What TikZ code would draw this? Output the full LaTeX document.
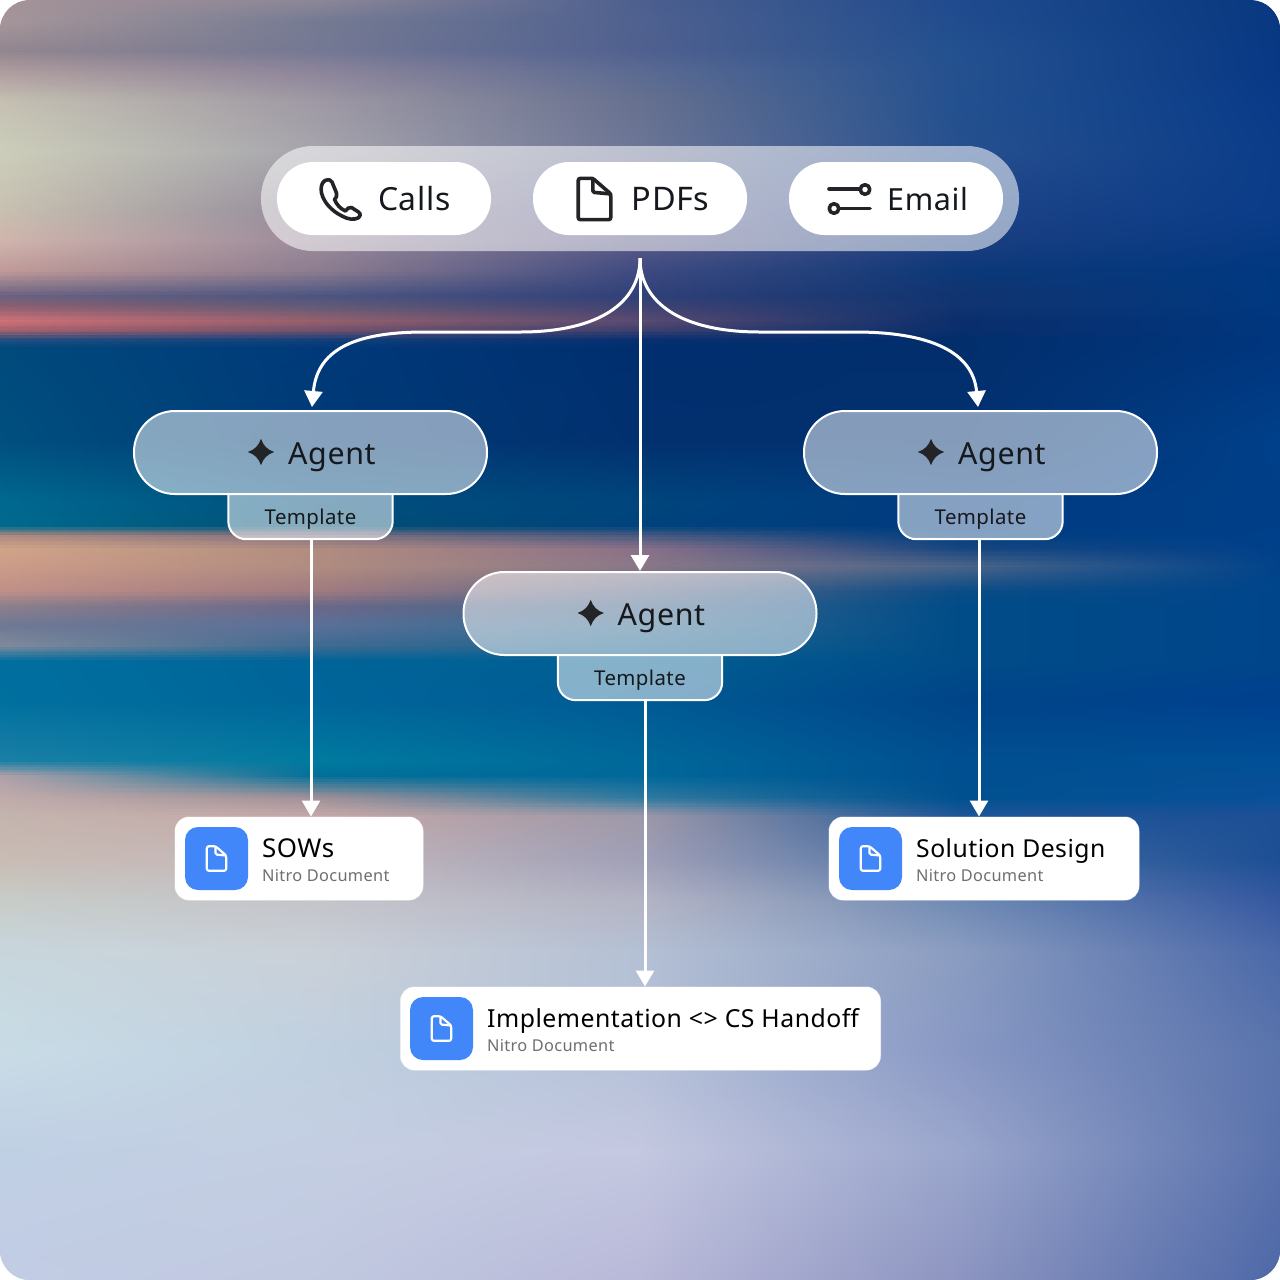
\documentclass[tikz,border=0pt]{standalone}
\usepackage{fontspec}
\setmainfont[LetterSpace=2]{Noto Sans}
\usetikzlibrary{arrows.meta}
\newcommand{\keyrow}[7]{%
  \expandafter\def\csname kywpos#1\endcsname{#2}%
  \definecolor{k#1a}{HTML}{#3}\definecolor{k#1b}{HTML}{#4}\definecolor{k#1c}{HTML}{#5}\definecolor{k#1d}{HTML}{#6}\definecolor{k#1e}{HTML}{#7}}
\keyrow{0}{0}{A49298}{8C8698}{4C5F8E}{1F4A8E}{083880}
\keyrow{1}{20}{A6969A}{747A92}{4F618F}{204C8E}{083880}
\keyrow{2}{50}{92868F}{747894}{50608F}{22508F}{083884}
\keyrow{3}{70}{AE9C9E}{8C849A}{5A6A92}{24508F}{083884}
\keyrow{4}{100}{C5C0B2}{9E98A4}{66708F}{22508F}{083A88}
\keyrow{5}{150}{CCCEBA}{A6A4AC}{6C7596}{264F8E}{0A3C88}
\keyrow{6}{210}{C8C0B0}{928A9C}{5F6490}{1D4386}{0A3C88}
\keyrow{7}{240}{D0B4AC}{9A8A9A}{5A5A88}{1A3E80}{063A84}
\keyrow{8}{270}{C09A98}{8C7C90}{3E4A80}{0C3878}{003880}
\keyrow{9}{295}{6A6280}{4C5580}{2F4078}{103470}{003880}
\keyrow{10}{305}{8A5F70}{605A78}{3F4272}{103470}{003880}
\keyrow{11}{320}{D07078}{95606C}{5A4A70}{0A2E6C}{00367E}
\keyrow{12}{330}{A0606C}{70506C}{3A3F6E}{0A2E6C}{00367E}
\keyrow{13}{338}{2A4F80}{17407A}{0A3070}{022E6C}{00367E}
\keyrow{14}{347}{004A7C}{00397A}{002E6E}{022E6C}{00367E}
\keyrow{15}{440}{004F7F}{003A75}{02306F}{02306F}{00408A}
\keyrow{16}{500}{00688F}{004F7E}{00457C}{003A80}{003F88}
\keyrow{17}{525}{006A8E}{004F75}{00437C}{003A80}{003F88}
\keyrow{18}{535}{B08A80}{80707F}{4A5A80}{003E80}{00408A}
\keyrow{19}{548}{D0A488}{B08C80}{8A7088}{18467F}{00408A}
\keyrow{20}{565}{CC9C88}{B08C80}{8A7888}{4A6488}{00428A}
\keyrow{21}{590}{C09088}{A07A80}{5A6888}{0A4C86}{00458A}
\keyrow{22}{605}{8C7F8C}{6A6888}{3F6488}{004C88}{00458A}
\keyrow{23}{625}{6F7894}{5A7098}{2F6890}{004C88}{00458A}
\keyrow{24}{645}{7F8A9C}{3F6A90}{1A6490}{004C88}{00458A}
\keyrow{25}{660}{006F9F}{006499}{005E92}{004C88}{00458A}
\keyrow{26}{700}{00709F}{00659A}{005A94}{004488}{00408F}
\keyrow{27}{760}{1A7FA5}{007A9F}{00689A}{004F90}{004F96}
\keyrow{28}{775}{B0A0A8}{006F99}{00689A}{004F90}{064F96}
\keyrow{29}{797}{C0ABAB}{A09098}{2F7AA0}{00508F}{08509A}
\keyrow{30}{815}{C4B4AE}{C4A8A8}{9E98A8}{1C5698}{1D4F95}
\keyrow{31}{860}{C8BCB4}{C4B8BC}{A0A0B8}{4A70A4}{1D4F95}
\keyrow{32}{900}{C8CCC8}{C4C4CA}{B4B4C4}{6F8AB4}{3558A0}
\keyrow{33}{950}{C8D6DC}{CAD0D8}{B4C0D4}{8A9CC0}{4A68A8}
\keyrow{34}{1050}{C8DCE6}{C0D0E0}{B4C0D8}{8898C4}{5A74AC}
\keyrow{35}{1150}{C0D0E4}{C4CEE2}{C4C8E0}{9AA6CC}{5A72AC}
\keyrow{36}{1285}{C2CCE4}{C0C8E0}{B8B8D8}{8C94C0}{4D68A8}
\newcount\stripno
\definecolor{inkcol}{HTML}{15181C}
\definecolor{glyphcol}{HTML}{222427}
\definecolor{blueicon}{HTML}{4287FA}
\definecolor{subgrey}{HTML}{6E6E73}
\tikzset{
  trayshape/.style={draw=none,fill=white,fill opacity=.55,rounded corners=52bp,inner sep=0pt,minimum width=758bp,minimum height=105bp},
  chipshape/.style={draw=none,fill=white,rounded corners=36bp,inner sep=0pt,minimum width=214bp,minimum height=73bp},
  agentshape/.style={draw=white,line width=2bp,fill=white,fill opacity=.52,rounded corners=41bp,inner sep=0pt,minimum width=353bp,minimum height=83bp},
  tabshape/.style={inner sep=0pt,minimum width=164bp,minimum height=45bp},
  tabline/.style={draw=white,line width=2bp,fill=white,fill opacity=.52,rounded corners=18bp},
  cardshape/.style={draw=white,draw opacity=.5,line width=1bp,fill=white,rounded corners=14bp,inner sep=0pt,minimum height=83bp},
  iconshape/.style={fill=blueicon,rounded corners=13bp,inner sep=0pt,minimum width=63bp,minimum height=63bp},
  chiptext/.style={inner sep=0pt,anchor=base west,text=inkcol,font=\fontsize{32}{36}\selectfont},
  agenttext/.style={inner sep=0pt,anchor=base west,text=inkcol,font=\fontsize{30.5}{36}\selectfont},
  tabtext/.style={inner sep=0pt,anchor=base,text=inkcol,font=\fontsize{20.5}{24}\selectfont},
  titletext/.style={inner sep=0pt,anchor=base west,text=black,font=\fontsize{25}{30}\selectfont},
  subtext/.style={inner sep=0pt,anchor=base west,text=subgrey,font=\fontsize{16.4}{20}\selectfont},
  wire/.style={draw=white,line width=3bp,-{Triangle[width=18bp,length=16bp]}},
  glyph/.style={draw=glyphcol,line width=3.6bp,line join=round,line cap=round},
  pics/docglyph/.style={code={
    \draw[pic actions,rounded corners=2.2pt] (-9.7,-12.3) -- (-1,-12.3) -- (9.7,-3) -- (9.7,12.3) -- (-9.7,12.3) -- cycle;
    \draw[pic actions,rounded corners=1.5pt] (-1,-12.3) -- (-1,-4) -- (9.7,-3);
  }},
  pics/sparkle/.style={code={
    \fill[glyphcol] (0,-13.2) .. controls (2.4,-6.2) and (6.2,-2.4) .. (13.2,0) .. controls (6.2,2.4) and (2.4,6.2) .. (0,13.2) .. controls (-2.4,6.2) and (-6.2,2.4) .. (-13.2,0) .. controls (-6.2,-2.4) and (-2.4,-6.2) .. cycle;
  }},
}
\begin{document}
\begin{tikzpicture}[x=1bp,y=-1bp]
\useasboundingbox (0,0) rectangle (1280,1280);
\fill[white] (0,0) rectangle (1280,1280);
\begin{scope}
\clip[rounded corners=30bp] (0,0) rectangle (1280,1280);
\foreach \ix/\nx in {0/1,1/2,2/3,3/4,4/5,5/6,6/7,7/8,8/9,9/10,10/11,11/12,12/13,13/14,14/15,15/16,16/17,17/18,18/19,19/20,20/21,21/22,22/23,23/24,24/25,25/26,26/27,27/28,28/29,29/30,30/31,31/32,32/33,33/34,34/35,35/36}{
  \pgfmathsetmacro{\ya}{\csname kywpos\ix\endcsname}
  \pgfmathsetmacro{\yb}{\csname kywpos\nx\endcsname}
  \pgfmathtruncatemacro{\cnt}{max(1,round((\yb-\ya)/2.5))}
  \pgfmathtruncatemacro{\cntm}{\cnt-1}
  \foreach \s in {0,...,\cntm}{
    \pgfmathsetmacro{\tt}{100*\s/\cnt}
    \pgfmathsetmacro{\ytop}{\ya+(\yb-\ya)*\s/\cnt}
    \pgfmathsetmacro{\ybot}{\ya+(\yb-\ya)*(\s+1)/\cnt+1.5}
    \colorlet{cA}{k\nx a!\tt!k\ix a}
    \colorlet{cB}{k\nx b!\tt!k\ix b}
    \colorlet{cC}{k\nx c!\tt!k\ix c}
    \colorlet{cD}{k\nx d!\tt!k\ix d}
    \colorlet{cE}{k\nx e!\tt!k\ix e}
    \global\advance\stripno by 1
    \edef\sn{bgstrip\the\stripno}
    \pgfdeclarehorizontalshading{\sn}{100bp}{color(0bp)=(cA);color(25bp)=(cA);color(37.5bp)=(cB);color(50bp)=(cC);color(62.5bp)=(cD);color(75bp)=(cE);color(100bp)=(cE)}
    \shade[shading=\sn] (0,\ytop) rectangle (1280,\ybot);
  }
}
\end{scope}

% source tray
\node[trayshape] (tray) at (640,198.5) {};
\node[chipshape] (chipcalls) at (384,198.5) {};
\node[chipshape] (chippdf) at (640,198.5) {};
\node[chipshape] (chipmail) at (896,198.5) {};
\node[chiptext] (lcalls) at (378,210.5) {Calls};
\node[chiptext,font=\fontsize{32.6}{36}\selectfont] (lpdf) at (631.5,210.5) {PDFs};
\node[chiptext,font=\fontsize{30.6}{36}\selectfont] (lmail) at (887,210.5) {Email};
% phone
\draw[glyph] (325,180.5) .. controls (329,179) and (331,180) .. (332,182) -- (336.5,193) .. controls (337.5,196) and (336,198) .. (334.5,199.5) .. controls (337,205) and (340,208.5) .. (345.5,211) .. controls (347,209) and (349,206.5) .. (351.5,207.5) -- (358.5,212) .. controls (361,214) and (360.5,216) .. (358,218) .. controls (354,220) and (348,219.5) .. (342,216) .. controls (332,211) and (324,203) .. (321.5,193) .. controls (320.5,187) and (321.5,183) .. (325,180.5) -- cycle;
% file
\pic[glyph,scale=1.68] (filebig) at (594.5,199) {docglyph};
% sliders
\draw[glyph] (829,189) -- (859.5,189);
\draw[glyph] (865,189.5) circle (4.8);
\draw[glyph] (829,208.5) ++(5,0) circle (4.8);
\draw[glyph] (840,208.5) -- (870,208.5);

% agents
\node[tabshape] (tleft) at (310.5,516.5) {};
\node[tabshape] (tmid) at (640,677.5) {};
\node[tabshape] (tright) at (980.5,516.5) {};
\foreach \t in {tleft,tmid,tright}{
  \draw[tabline] (\t.north west) -- (\t.south west) -- (\t.south east) -- (\t.north east);
}
\node[agentshape] (aleft) at (310.5,452.5) {};
\node[agentshape] (amid) at (640,613.5) {};
\node[agentshape] (aright) at (980.5,452.5) {};
\pic (starl) at (261,452) {sparkle};
\pic (starm) at (590.7,613) {sparkle};
\pic (starr) at (931,452) {sparkle};
\node[agenttext] (alabl) at (288,464) {Agent};
\node[agenttext] (alabm) at (617.5,625) {Agent};
\node[agenttext] (alabr) at (958,464) {Agent};
\node[tabtext] (tlabl) at (310.5,524) {Template};
\node[tabtext] (tlabm) at (640,685) {Template};
\node[tabtext] (tlabr) at (980.5,524) {Template};

% documents
\node[cardshape,minimum width=248bp] (dsow) at (299,858.5) {};
\node[cardshape,minimum width=480bp] (dimpl) at (640.5,1028.5) {};
\node[cardshape,minimum width=310bp] (dsol) at (984,858.5) {};
\node[iconshape] (isow) at (216.5,858.5) {};
\node[iconshape] (iimpl) at (441.5,1028.5) {};
\node[iconshape] (isol) at (870.5,858.5) {};
\pic[draw=white,line width=2.2bp,line join=round] (gsow) at (isow) {docglyph={}};
\pic[draw=white,line width=2.2bp,line join=round] (gimpl) at (iimpl) {docglyph={}};
\pic[draw=white,line width=2.2bp,line join=round] (gsol) at (isol) {docglyph={}};
\node[titletext,font=\fontsize{26}{30}\selectfont] (ttsow) at (262,857) {SOWs};
\node[subtext] (stsow) at (262,881) {Nitro Document};
\node[titletext,font=\fontsize{24.8}{30}\selectfont] (ttsol) at (916,857) {Solution Design};
\node[subtext] (stsol) at (916,881) {Nitro Document};
\node[titletext,font=\fontsize{24.9}{30}\selectfont] (ttimpl) at (487,1027) {Implementation <> CS Handoff};
\node[subtext] (stimpl) at (487,1051) {Nitro Document};

% connectors
\coordinate (hub) at ([yshift=-7bp]tray.south);
\draw[wire] (hub) .. controls (640,302) and (600,332) .. (520,332) -- (425,332) .. controls (350,332) and (317,352) .. ([xshift=1.5bp,yshift=3bp]aleft.north);
\draw[wire] (hub) .. controls (640,302) and (680,332) .. (760,332) -- (855,332) .. controls (930,332) and (973,352) .. ([xshift=-2.5bp,yshift=3bp]aright.north);
\draw[wire] (hub) -- (amid.north);
\draw[wire] ([xshift=.5bp]tleft.south) -- ([xshift=.5bp]tleft.south |- dsow.north);
\draw[wire] ([xshift=5bp]tmid.south) -- ([xshift=5bp]tmid.south |- dimpl.north);
\draw[wire] ([xshift=-1.5bp]tright.south) -- ([xshift=-1.5bp]tright.south |- dsol.north);
\end{tikzpicture}
\end{document}
